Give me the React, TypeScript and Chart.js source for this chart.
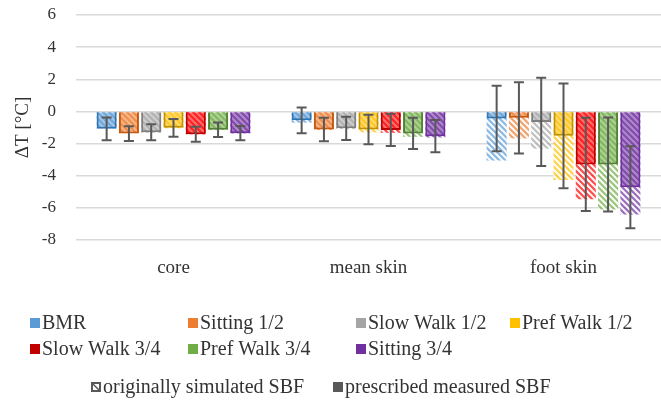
import React, { useEffect, useRef } from "react";
import { Chart, registerables } from "chart.js";

Chart.register(...registerables);

const categories = ["core", "mean skin", "foot skin"];
const seriesNames = ["BMR", "Sitting 1/2", "Slow Walk 1/2", "Pref Walk 1/2", "Slow Walk 3/4", "Pref Walk 3/4", "Sitting 3/4"];
const legendColors = ["#5B9BD5", "#ED7D31", "#A5A5A5", "#FFC000", "#C00000", "#70AD47", "#7030A0"];
const fillColors = ["91,155,213", "237,125,49", "165,165,165", "255,192,0", "255,0,0", "112,173,71", "112,48,160"];
const borderColors = ["#2E75B6", "#C55A11", "#7F7F7F", "#BF9000", "#C00000", "#548235", "#7030A0"];

// prescribed measured SBF (solid bars), per category
const measuredCore = [-1.08, -1.38, -1.3, -1.02, -1.42, -1.14, -1.35];
const measuredMeanSkin = [-0.55, -1.12, -1.05, -1.12, -1.15, -1.37, -1.54];
const measuredFootSkin = [-0.44, -0.4, -0.65, -1.52, -3.3, -3.3, -4.72];
// originally simulated SBF (hatched bars), per category
const simulatedCore = [-1.05, -1.35, -1.33, -1.05, -1.43, -1.16, -1.37];
const simulatedMeanSkin = [-0.7, -1.16, -1.1, -1.3, -1.33, -1.58, -1.62];
const simulatedFootSkin = [-3.05, -1.68, -2.32, -4.27, -5.47, -6.1, -6.42];
// error bars (± on measured values), per category
const errorCore = [0.71, 0.46, 0.5, 0.55, 0.47, 0.45, 0.45];
const errorMeanSkin = [0.8, 0.73, 0.72, 0.92, 1.0, 0.97, 1.0];
const errorFootSkin = [2.04, 2.21, 2.75, 3.26, 2.9, 2.93, 2.55];

const yTicks = [-8, -6, -4, -2, 0, 2, 4, 6];
const yTitle = "ΔT [°C]";
const patternLegend = ["originally simulated SBF", "prescribed measured SBF"];

const SERIF = "'Liberation Serif', 'Times New Roman', serif";
const TEXT = "#333333";

function makePattern(rgb: string) {
  const s = 6;
  const c = document.createElement("canvas");
  c.width = s;
  c.height = s;
  const g = c.getContext("2d")!;
  g.fillStyle = `rgba(${rgb},0.7)`;
  g.fillRect(0, 0, s, s);
  g.strokeStyle = "rgba(255,255,255,0.95)";
  g.lineWidth = 2;
  g.beginPath();
  g.moveTo(-1, -1);
  g.lineTo(s + 1, s + 1);
  g.moveTo(s - 2, -2);
  g.lineTo(s + 2, 2);
  g.moveTo(-2, s - 2);
  g.lineTo(2, s + 2);
  g.stroke();
  return g.createPattern(c, "repeat")!;
}

export default function App() {
  const ref = useRef<HTMLCanvasElement | null>(null);

  useEffect(() => {
    if (!ref.current) return;
    const measured = seriesNames.map((_, i) => [measuredCore[i], measuredMeanSkin[i], measuredFootSkin[i]]);
    const simulated = seriesNames.map((_, i) => [simulatedCore[i], simulatedMeanSkin[i], simulatedFootSkin[i]]);
    const errors = seriesNames.map((_, i) => [errorCore[i], errorMeanSkin[i], errorFootSkin[i]]);

    const datasets: any[] = [];
    seriesNames.forEach((name, i) => {
      datasets.push({
        label: name + " measured",
        data: measured[i],
        stack: "s" + i,
        order: 0,
        backgroundColor: `rgba(${fillColors[i]},0.55)`,
        borderColor: borderColors[i],
        borderWidth: 2,
        categoryPercentage: 0.8,
        barPercentage: 0.9,
      });
    });
    seriesNames.forEach((name, i) => {
      datasets.push({
        label: name + " simulated",
        data: simulated[i],
        stack: "s" + i,
        order: 1,
        backgroundColor: makePattern(fillColors[i]),
        borderWidth: 0,
        categoryPercentage: 0.8,
        barPercentage: 0.9,
      });
    });

    const errorPlugin = {
      id: "errorBars",
      afterDatasetsDraw(chart: any) {
        const ctx = chart.ctx;
        const y = chart.scales.y;
        ctx.save();
        ctx.strokeStyle = "#595959";
        ctx.lineWidth = 2;
        for (let i = 0; i < seriesNames.length; i++) {
          const meta = chart.getDatasetMeta(i);
          meta.data.forEach((bar: any, j: number) => {
            const v = measured[i][j];
            const e = errors[i][j];
            const x = bar.x;
            const yt = y.getPixelForValue(v + e);
            const yb = y.getPixelForValue(v - e);
            ctx.beginPath();
            ctx.moveTo(x, yt);
            ctx.lineTo(x, yb);
            ctx.moveTo(x - 5, yt);
            ctx.lineTo(x + 5, yt);
            ctx.moveTo(x - 5, yb);
            ctx.lineTo(x + 5, yb);
            ctx.stroke();
          });
        }
        ctx.restore();
      },
    };

    const legendPlugin = {
      id: "customLegend",
      afterDraw(chart: any) {
        const ctx = chart.ctx;
        ctx.save();
        ctx.textBaseline = "middle";
        ctx.textAlign = "left";
        ctx.fillStyle = TEXT;
        const rows = [
          { y: 323, items: [0, 1, 2, 3], xs: [30, 188, 356, 510] },
          { y: 349, items: [4, 5, 6], xs: [30, 188, 356] },
        ];
        ctx.font = `20px ${SERIF}`;
        rows.forEach((r) => {
          r.items.forEach((idx, k) => {
            const x = r.xs[k];
            ctx.fillStyle = legendColors[idx];
            ctx.fillRect(x, r.y - 5, 10, 10);
            ctx.fillStyle = TEXT;
            ctx.fillText(seriesNames[idx], x + 12, r.y + 1);
          });
        });
        // pattern legend
        const y3 = 387;
        ctx.font = `20px ${SERIF}`;
        const hx = 91;
        ctx.fillStyle = "#595959";
        ctx.fillRect(hx, y3 - 5, 10, 10);
        ctx.fillStyle = "#ffffff";
        ctx.fillRect(hx + 2, y3 - 3, 6, 6);
        ctx.strokeStyle = "#595959";
        ctx.lineWidth = 1.5;
        ctx.beginPath();
        ctx.moveTo(hx + 2, y3 - 3);
        ctx.lineTo(hx + 8, y3 + 3);
        ctx.stroke();
        ctx.fillStyle = TEXT;
        ctx.fillText(patternLegend[0], hx + 12, y3 + 1);
        const sx = 333;
        ctx.fillStyle = "#595959";
        ctx.fillRect(sx, y3 - 5, 10, 10);
        ctx.fillStyle = TEXT;
        ctx.fillText(patternLegend[1], sx + 12, y3 + 1);
        ctx.restore();
      },
    };

    const chart = new Chart(ref.current, {
      type: "bar",
      data: { labels: categories, datasets },
      options: {
        animation: false,
        responsive: false,
        maintainAspectRatio: false,
        layout: { padding: { top: 15, right: 0, left: 0, bottom: 0 } },
        plugins: {
          legend: { display: false },
          tooltip: { enabled: false },
        },
        scales: {
          x: {
            grid: { display: false, drawTicks: false },
            border: { display: false },
            ticks: {
              color: TEXT,
              font: { family: SERIF, size: 19 },
              padding: 17,
            },
            afterFit(scale: any) {
              scale.height = 171;
            },
          },
          y: {
            stacked: false,
            min: -8,
            max: 6,
            afterBuildTicks(scale: any) {
              scale.ticks = yTicks.map((v) => ({ value: v }));
            },
            grid: { color: "#D9D9D9", lineWidth: 1.5, drawTicks: false },
            border: { display: false },
            ticks: {
              color: TEXT,
              font: { family: SERIF, size: 17 },
              padding: 20,
            },
            title: {
              display: true,
              text: yTitle,
              color: TEXT,
              font: { family: SERIF, size: 19 },
              padding: { top: 12, bottom: 0 },
            },
            afterFit(scale: any) {
              scale.width = 76;
              scale.paddingTop = 0;
              scale.paddingBottom = 0;
            },
          },
        },
      },
      plugins: [errorPlugin, legendPlugin],
    } as any);
    return () => chart.destroy();
  }, []);

  return (
    <div style={{ position: "fixed", left: 0, top: 0, width: 661, height: 411, background: "#ffffff" }}>
      <canvas ref={ref} width={661} height={411} style={{ display: "block", width: 661, height: 411 }} />
    </div>
  );
}
